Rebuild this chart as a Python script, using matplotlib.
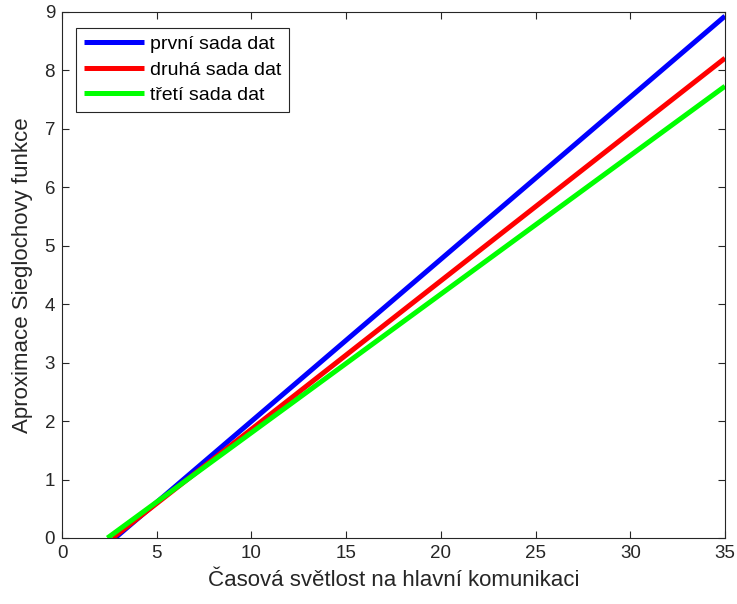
import matplotlib
matplotlib.use("Agg")
import matplotlib.pyplot as plt

plt.rcParams['font.family'] = ['Liberation Sans', 'DejaVu Sans']

# Straight-line approximations: start on the x axis, end at x = 35
labels = ["první sada dat", "druhá sada dat", "třetí sada dat"]
colors = ["#0000ff", "#ff0000", "#00ff00"]
x_start = [2.8, 2.67, 2.4]
x_end = [35, 35, 35]
y_start = [0, 0, 0]
y_end = [8.93, 8.21, 7.73]

fig = plt.figure(figsize=(7.37, 6.04), dpi=100)
ax = fig.add_axes([62/737, 66/604, 663/737, 526/604])

for lab, c, xs, xe, ys, ye in zip(labels, colors, x_start, x_end, y_start, y_end):
    ax.plot([xs, xe], [ys, ye], color=c, lw=3.6, label=lab, solid_capstyle='butt')

ax.set_xlim(0, 35)
ax.set_ylim(0, 9)
ax.set_xticks(range(0, 36, 5))
ax.set_yticks(range(0, 10))
ax.tick_params(direction='in', top=True, right=True, labelsize=13.5, length=5,
               color='#262626', labelcolor='#262626', width=0.8, pad=5)
for s in ax.spines.values():
    s.set_color('#262626')
    s.set_linewidth(0.8)

ax.set_xlabel("Časová světlost na hlavní komunikaci", fontsize=16, color='#262626',
              labelpad=6)
ax.set_ylabel("Aproximace Sieglochovy funkce", fontsize=16, color='#262626',
              labelpad=8)

leg = ax.legend(loc='upper left', bbox_to_anchor=(0.021, 0.97), borderaxespad=0,
                fontsize=14, fancybox=False, framealpha=1, edgecolor='#262626',
                handlelength=3.1, handletextpad=0.3, borderpad=0.4, labelspacing=0.4)
leg.get_frame().set_linewidth(0.8)

fig.savefig("out.png", dpi=100)
